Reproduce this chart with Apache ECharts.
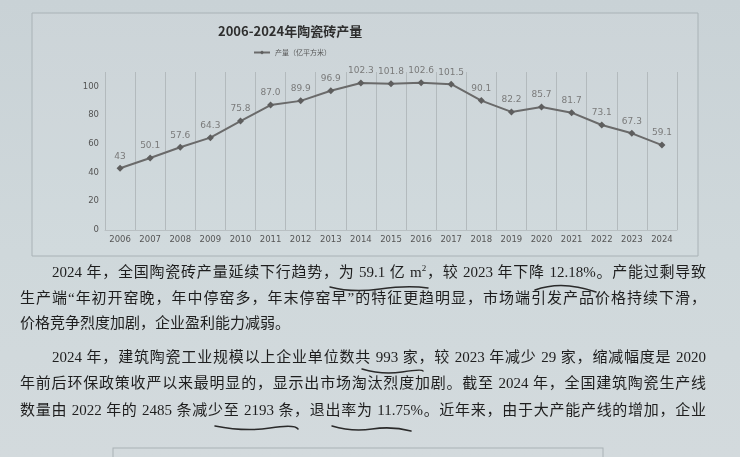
<!DOCTYPE html>
<html>
<head>
<meta charset="utf-8">
<script src="https://cdn.jsdelivr.net/npm/echarts@6/dist/echarts.min.js"></script>
<style>
  html, body { margin: 0; padding: 0; }
  body { width: 740px; height: 457px; overflow: hidden; position: relative;
         background: linear-gradient(180deg, #c9d2d6 0%, #cfd8db 55%, #d3dadd 100%); }
  #chart { position: absolute; left: 0; top: 0; width: 740px; height: 457px; }
  .ln { position: absolute; height: 26px; line-height: 26px; font-size: 15px; color: #1e1e1e;
        font-family: "Liberation Serif", "Noto Sans CJK SC", serif; white-space: nowrap;
        text-align: justify; text-align-last: justify; }
  .last { text-align-last: left; }
  #marks { position: absolute; left: 0; top: 0; width: 740px; height: 457px; pointer-events: none; }
  sup { font-size: 9px; vertical-align: 6px; line-height: 0; }
</style>
</head>
<body>
<div id="chart"></div>

<div class="ln" style="left:52px; top:259px; width:654px;">2024 年，全国陶瓷砖产量延续下行趋势，为 59.1 亿 m<sup>2</sup>，较 2023 年下降 12.18%。产能过剩导致</div>
<div class="ln" style="left:20px; top:285px; width:686px;">生产端“年初开窑晚，年中停窑多，年末停窑早”的特征更趋明显，市场端引发产品价格持续下滑，</div>
<div class="ln last" style="left:20px; top:310px; width:686px;">价格竞争烈度加剧，企业盈利能力减弱。</div>
<div class="ln" style="left:52px; top:344px; width:654px;">2024 年，建筑陶瓷工业规模以上企业单位数共 993 家，较 2023 年减少 29 家，缩减幅度是 2020</div>
<div class="ln" style="left:20px; top:370px; width:686px;">年前后环保政策收严以来最明显的，显示出市场淘汰烈度加剧。截至 2024 年，全国建筑陶瓷生产线</div>
<div class="ln" style="left:20px; top:397px; width:686px;">数量由 2022 年的 2485 条减少至 2193 条，退出率为 11.75%。近年来，由于大产能产线的增加，企业</div>

<svg id="marks" viewBox="0 0 740 457">
  <g fill="none" stroke="#2a2a2a" stroke-width="1.5" stroke-linecap="round">
    <path d="M330 287 Q352 293 380 289 T428 288"/>
    <path d="M535 290 Q562 280 596 292"/>
    <path d="M362 369 Q382 375 402 372 T423 371"/>
    <path d="M215 426 Q245 432 270 428 T298 429"/>
    <path d="M332 426 Q352 432 372 429 T411 431"/>
  </g>
  <rect x="113" y="448" width="490" height="20" fill="none" stroke="#aab2b6" stroke-width="1"/>
</svg>

<script>
const years = ['2006','2007','2008','2009','2010','2011','2012','2013','2014','2015',
               '2016','2017','2018','2019','2020','2021','2022','2023','2024'];
const output = [43, 50.1, 57.6, 64.3, 75.8, 87.0, 89.9, 96.9, 102.3, 101.8,
                102.6, 101.5, 90.1, 82.2, 85.7, 81.7, 73.1, 67.3, 59.1];
const outputLabels = ['43','50.1','57.6','64.3','75.8','87.0','89.9','96.9','102.3','101.8',
                      '102.6','101.5','90.1','82.2','85.7','81.7','73.1','67.3','59.1'];
const seriesName = '产量（亿平方米）';
const yTicks = [0, 20, 40, 60, 80, 100];

const chart = echarts.init(document.getElementById('chart'), null, { renderer: 'canvas' });
chart.setOption({
  backgroundColor: 'transparent',
  animation: false,
  title: {
    text: '2006-2024年陶瓷砖产量',
    left: 213, top: 20,
    textStyle: { fontSize: 13, fontWeight: 'bold', color: '#2e2e2e',
                 fontFamily: '"Noto Sans CJK SC", "Liberation Sans", sans-serif' }
  },
  legend: {
    left: 248, top: 44,
    itemWidth: 16, itemHeight: 5, itemGap: 3,
    textStyle: { fontSize: 7, color: '#555', fontFamily: '"Noto Sans CJK SC", sans-serif' },
    data: [seriesName]
  },
  graphic: [{
    type: 'rect', z: -1,
    shape: { x: 32, y: 13, width: 666, height: 243 },
    style: { fill: 'rgba(255,255,255,0.06)', stroke: '#a9b2b6', lineWidth: 1 }
  }],
  grid: { left: 105, right: 63, top: 72, bottom: 227 },
  xAxis: {
    type: 'category',
    data: years,
    boundaryGap: true,
    axisTick: { show: false },
    axisLine: { show: true, lineStyle: { color: '#b9c0c3' } },
    axisLabel: { fontSize: 8.5, color: '#555', margin: 5,
                 fontFamily: '"DejaVu Sans", sans-serif' },
    splitLine: { show: true, lineStyle: { color: '#b3babd', width: 1 } }
  },
  yAxis: {
    type: 'value',
    min: 0, max: 110, interval: 20,
    axisLine: { show: false },
    axisTick: { show: false },
    splitLine: { show: false },
    axisLabel: {
      fontSize: 8.5, color: '#555', margin: 6,
      fontFamily: '"DejaVu Sans", sans-serif',
      formatter: v => (yTicks.indexOf(v) >= 0 ? String(v) : '')
    }
  },
  series: [{
    name: seriesName,
    type: 'line',
    data: output,
    symbol: 'diamond',
    symbolSize: 7,
    lineStyle: { color: '#6a6a6a', width: 2 },
    itemStyle: { color: '#5e5e5e' },
    label: {
      show: true, position: 'top', distance: 4,
      fontSize: 9, color: '#7a7a7a',
      fontFamily: '"DejaVu Sans", sans-serif',
      formatter: p => outputLabels[p.dataIndex]
    }
  }]
});
</script>
</body>
</html>
